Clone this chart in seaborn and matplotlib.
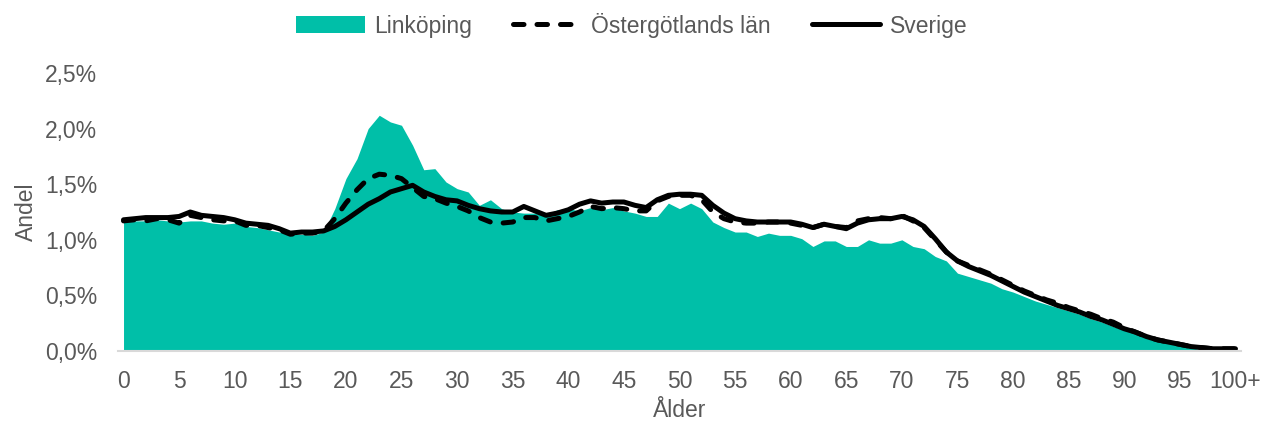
import numpy as np
import pandas as pd
import matplotlib
matplotlib.use("Agg")
import matplotlib.pyplot as plt
import seaborn as sns
from matplotlib.patches import Patch
from matplotlib.lines import Line2D
from matplotlib.ticker import FuncFormatter

# Andel av befolkningen per ålder (%)
ages = list(range(0, 101))
tick_labels = [str(a) for a in range(0, 100, 5)] + ["100+"]

linkoping = [
    1.16, 1.17, 1.17, 1.18, 1.17, 1.16, 1.17, 1.17, 1.15, 1.14,
    1.15, 1.12, 1.11, 1.09, 1.07, 1.05, 1.05, 1.04, 1.07, 1.28,
    1.55, 1.73, 2.00, 2.12, 2.06, 2.03, 1.85, 1.63, 1.64, 1.52,
    1.46, 1.43, 1.31, 1.36, 1.28, 1.25, 1.24, 1.24, 1.23, 1.27,
    1.28, 1.26, 1.29, 1.27, 1.29, 1.26, 1.24, 1.21, 1.21, 1.33,
    1.28, 1.33, 1.28, 1.16, 1.11, 1.07, 1.07, 1.03, 1.06, 1.04,
    1.04, 1.01, 0.94, 0.99, 0.99, 0.94, 0.94, 1.00, 0.97, 0.97,
    1.00, 0.94, 0.92, 0.85, 0.81, 0.70, 0.67, 0.64, 0.61, 0.56,
    0.53, 0.49, 0.45, 0.42, 0.39, 0.36, 0.33, 0.29, 0.26, 0.22,
    0.19, 0.15, 0.12, 0.09, 0.07, 0.05, 0.03, 0.01, 0.005, 0.0,
    0.0,
]

ostergotland = [
    1.17, 1.18, 1.17, 1.19, 1.18, 1.15, 1.22, 1.20, 1.18, 1.17,
    1.17, 1.13, 1.13, 1.11, 1.09, 1.05, 1.06, 1.06, 1.08, 1.19,
    1.33, 1.45, 1.55, 1.59, 1.58, 1.55, 1.47, 1.39, 1.37, 1.33,
    1.30, 1.26, 1.20, 1.16, 1.15, 1.16, 1.20, 1.20, 1.17, 1.19,
    1.21, 1.25, 1.30, 1.28, 1.29, 1.28, 1.26, 1.26, 1.35, 1.39,
    1.40, 1.40, 1.36, 1.25, 1.19, 1.16, 1.15, 1.15, 1.16, 1.16,
    1.15, 1.13, 1.11, 1.14, 1.12, 1.11, 1.17, 1.19, 1.20, 1.19,
    1.22, 1.17, 1.11, 1.00, 0.89, 0.81, 0.77, 0.73, 0.69, 0.64,
    0.59, 0.54, 0.50, 0.46, 0.43, 0.39, 0.36, 0.33, 0.29, 0.26,
    0.21, 0.17, 0.13, 0.10, 0.08, 0.06, 0.04, 0.03, 0.02, 0.02,
    0.02,
]

sverige = [
    1.18, 1.19, 1.20, 1.20, 1.20, 1.21, 1.25, 1.22, 1.21, 1.20,
    1.18, 1.15, 1.14, 1.13, 1.10, 1.06, 1.07, 1.07, 1.08, 1.12,
    1.18, 1.25, 1.32, 1.37, 1.43, 1.46, 1.49, 1.43, 1.39, 1.36,
    1.35, 1.31, 1.28, 1.26, 1.25, 1.25, 1.30, 1.26, 1.22, 1.24,
    1.27, 1.32, 1.35, 1.33, 1.34, 1.34, 1.31, 1.29, 1.36, 1.40,
    1.41, 1.41, 1.40, 1.31, 1.24, 1.19, 1.17, 1.16, 1.16, 1.16,
    1.16, 1.14, 1.11, 1.14, 1.12, 1.10, 1.15, 1.18, 1.19, 1.19,
    1.21, 1.18, 1.12, 1.01, 0.89, 0.81, 0.76, 0.72, 0.68, 0.63,
    0.58, 0.53, 0.49, 0.45, 0.41, 0.38, 0.35, 0.31, 0.28, 0.24,
    0.20, 0.17, 0.13, 0.10, 0.08, 0.06, 0.04, 0.03, 0.02, 0.02,
    0.02,
]

teal = "#00BFA8"
grey = "#595959"
fs = 16.5

df = pd.DataFrame({"Ålder": ages, "Linköping": linkoping,
                   "Östergötlands län": ostergotland, "Sverige": sverige})

sns.set_style("white")
plt.rcParams["font.family"] = ["Liberation Sans", "DejaVu Sans"]

fig = plt.figure(figsize=(12.63, 4.23), dpi=100)
ax = fig.add_axes([0.0934, 0.1702, 0.8892, 0.6572])

ax.fill_between(df["Ålder"], df["Linköping"], 0, color=teal, linewidth=0)
sns.lineplot(data=df, x="Ålder", y="Östergötlands län", ax=ax, color="black",
             linewidth=3.6)
sns.lineplot(data=df, x="Ålder", y="Sverige", ax=ax, color="black", linewidth=3.6)
ax.lines[0].set_dashes((2.1, 2.6))
ax.lines[0].set_dash_capstyle("round")
ax.lines[1].set_solid_capstyle("round")

ax.set_xlim(-0.5, 100.5)
ax.set_ylim(0, 2.5)
ax.set_xticks(range(0, 101, 5))
ax.set_xticklabels(tick_labels)
ax.set_yticks(np.arange(0, 2.51, 0.5))
ax.yaxis.set_major_formatter(FuncFormatter(lambda v, p: f"{v:.1f}%".replace(".", ",")))
ax.tick_params(axis="both", length=0, labelsize=fs, labelcolor=grey)
ax.tick_params(axis="x", pad=14)
ax.tick_params(axis="y", pad=15)

for s in ["top", "right", "left"]:
    ax.spines[s].set_visible(False)
ax.spines["bottom"].set_color("#D9D9D9")
ax.spines["bottom"].set_linewidth(1.5)

ax.set_xlabel("Ålder", fontsize=fs, color=grey, labelpad=4)
ax.set_ylabel("Andel", fontsize=fs, color=grey, labelpad=5)

handles = [
    Patch(facecolor=teal, edgecolor="none"),
    Line2D([], [], color="black", linewidth=3.6, dashes=(2.1, 2.6),
           dash_capstyle="round"),
    Line2D([], [], color="black", linewidth=3.6, solid_capstyle="round"),
]
fig.legend(handles, ["Linköping", "Östergötlands län", "Sverige"],
           loc="upper center", bbox_to_anchor=(0.5, 1.0), ncol=3,
           frameon=False, fontsize=fs, labelcolor=grey, handlelength=3.0,
           handleheight=0.75, handletextpad=0.4, columnspacing=1.8,
           borderaxespad=0.15)

fig.savefig("out.png", dpi=100)
